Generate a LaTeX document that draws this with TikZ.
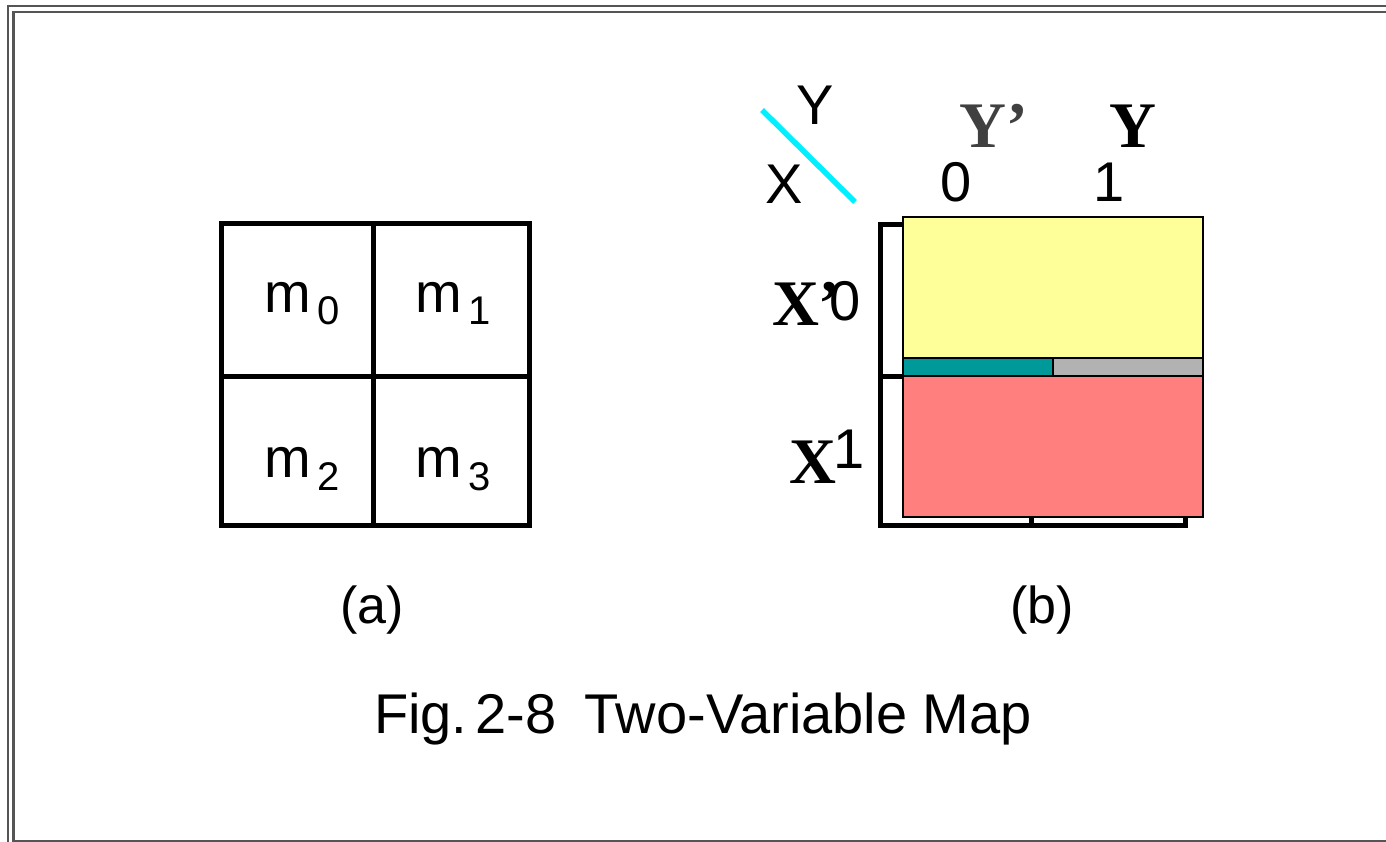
\documentclass[tikz,border=0pt]{standalone}
\usepackage{fontspec}
\setmainfont{Liberation Sans}
\newfontfamily\timesfont{Liberation Serif}
\usetikzlibrary{positioning}
\definecolor{framegray}{HTML}{555555}
\definecolor{cellyellow}{HTML}{FFFF99}
\definecolor{cellteal}{HTML}{009999}
\definecolor{cellgray}{HTML}{B2B2B2}
\definecolor{cellpink}{HTML}{FF7F7F}
\definecolor{slashcyan}{HTML}{00F0FF}
\definecolor{dimink}{HTML}{404040}
\newcommand{\fsz}[1]{\fontsize{#1}{#1}\selectfont}
\newcommand{\mterm}[1]{{\fsz{56}m}\hspace{7pt}\raisebox{-13pt}{\fsz{40}#1}}

\begin{document}
\begin{tikzpicture}[x=1pt, y=-1pt, inner sep=0pt, outer sep=0pt,
    frameline/.style={framegray, line width=2.5pt},
    gridline/.style={black, line width=5pt},
    cellbox/.style={draw=black, line width=1.5pt},
    sanslabel/.style={anchor=base, font=\fsz{56}},
    boldlabel/.style={font=\timesfont\bfseries\fsz{65}}]
    \useasboundingbox (0,0) rectangle (1386,842);
    % frame
    \draw[frameline] (8,842) -- (8,6) -- (1386,6);
    \draw[frameline] (1386,12) -- (13.5,12) -- (13.5,841) -- (1386,841);
    % (a): plain map
    \draw[gridline] (221,224) rectangle (529,525);
    \draw[gridline] (373,224) -- (373,525);
    \draw[gridline] (221,376.5) -- (529,376.5);
    \node[anchor=base west] (m0) at (264,312) {\mterm{0}};
    \node[anchor=base west] (m1) at (415,312) {\mterm{1}};
    \node[anchor=base west] (m2) at (264,477) {\mterm{2}};
    \node[anchor=base west] (m3) at (415,477) {\mterm{3}};
    \node[anchor=base, font=\fsz{52}] (capa) at (372,623) {(a)};
    % (b): map with shaded rows
    \draw[gridline] (880,225) rectangle (1185,525);
    \draw[gridline] (1031,225) -- (1031,525);
    \draw[gridline] (880,376) -- (1185,376);
    \fill[cellyellow, cellbox] (903,217) rectangle (1203,358);
    \fill[cellteal, cellbox] (903,358) rectangle (1053,376);
    \fill[cellgray, cellbox] (1053,358) rectangle (1203,376);
    \fill[cellpink, cellbox] (903,376) rectangle (1203,517);
    \draw[slashcyan, line width=5.5pt] (762,110) -- (855,202);
    \node[sanslabel] (ytop) at (815,125) {Y};
    \node[sanslabel] (xleft) at (784,204) {X};
    \node[sanslabel] (col0) at (956,202) {0};
    \node[sanslabel] (col1) at (1109,202) {1};
    \node[boldlabel, anchor=base, dimink] (ybar) at (994,148) {Y’};
    \node[boldlabel, anchor=base] (yvar) at (1133,148) {Y};
    \node[boldlabel, anchor=base west] (xbar) at (772,325) {X’};
    \node[sanslabel] (row0) at (845,320) {0};
    \node[boldlabel, anchor=base west] (xvar) at (789,483) {X};
    \node[sanslabel] (row1) at (849,468) {1};
    \node[anchor=base, font=\fsz{52}] (capb) at (1042,623) {(b)};
    % caption
    \node[anchor=base, font=\fsz{56}] (caption) at (703,733) {Fig.\hspace{0.15em}2-8\hspace{0.5em}Two-Variable Map};
\end{tikzpicture}
\end{document}
